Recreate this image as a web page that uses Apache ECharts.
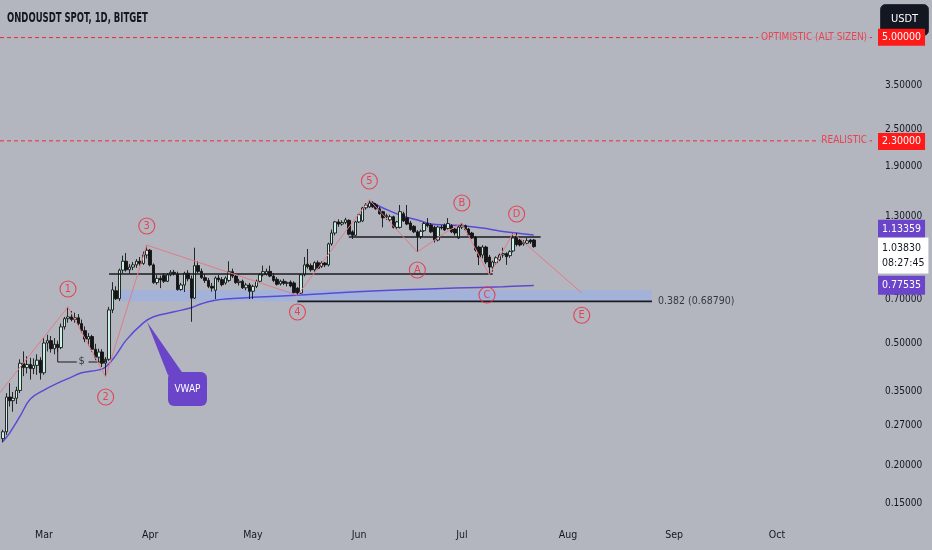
<!DOCTYPE html>
<html><head><meta charset="utf-8">
<script src="https://cdn.jsdelivr.net/npm/echarts@6/dist/echarts.min.js"></script>
<style>html,body{margin:0;padding:0;background:#b3b6bf;}#c{width:932px;height:550px;}</style>
</head><body><div id="c"></div>
<script>
// ---------- DATA ----------
const chartTitle = 'ONDOUSDT SPOT, 1D, BITGET';
const startDate = '2024-02-18';           // first daily candle
// [open, high, low, close] per day
const ohlc = [
[.245,.262,.238,.258],[.258,.345,.252,.335],[.335,.372,.312,.326],[.326,.348,.300,.332],[.332,.362,.318,.352],
[.352,.445,.345,.432],[.432,.472,.392,.418],[.418,.455,.400,.428],[.428,.450,.382,.415],[.415,.448,.398,.425],
[.425,.462,.396,.442],[.442,.452,.382,.402],[.402,.522,.396,.503],[.503,.535,.472,.512],[.512,.530,.468,.482],
[.482,.522,.462,.498],[.498,.512,.470,.486],[.486,.582,.480,.568],[.568,.612,.556,.604],[.604,.660,.586,.612],
[.612,.640,.592,.600],[.600,.632,.586,.608],[.608,.625,.574,.582],[.582,.600,.542,.552],[.552,.570,.506,.518],
[.518,.542,.492,.528],[.528,.535,.470,.480],[.480,.500,.442,.452],[.452,.482,.436,.470],[.470,.480,.420,.432],
[.432,.452,.390,.445],[.445,.660,.440,.645],[.645,.795,.630,.750],[.745,.770,.695,.702],[.702,.880,.690,.870],
[.870,.970,.850,.930],[.930,.990,.860,.872],[.872,.910,.850,.890],[.890,.925,.870,.905],[.905,.945,.885,.930],
[.930,.960,.900,.915],[.915,1.000,.905,.975],[.975,1.050,.950,1.010],[1.010,1.020,.895,.905],[.905,.915,.785,.792],
[.792,.840,.780,.818],[.818,.835,.760,.808],[.835,.850,.790,.800],[.800,.850,.795,.840],[.840,.870,.830,.856],
[.856,.872,.835,.845],[.845,.860,.745,.752],[.752,.790,.745,.778],[.778,.860,.738,.850],[.850,.870,.800,.815],
[.815,.835,.590,.705],[.705,1.030,.700,.900],[.900,.930,.850,.862],[.862,.880,.815,.822],[.822,.845,.790,.805],
[.805,.820,.760,.770],[.770,.790,.740,.760],[.748,.830,.700,.820],[.820,.840,.795,.810],[.810,.825,.770,.780],
[.790,.830,.780,.820],[.805,.930,.795,.860],[.860,.880,.820,.832],[.832,.845,.785,.792],[.792,.815,.775,.800],
[.800,.810,.755,.762],[.762,.790,.748,.778],[.778,.790,.700,.742],[.742,.780,.700,.770],[.770,.810,.760,.800],
[.800,.850,.790,.840],[.840,.900,.830,.860],[.845,.880,.835,.862],[.862,.900,.825,.832],[.832,.850,.795,.805],
[.812,.825,.775,.782],[.785,.810,.775,.800],[.800,.815,.778,.788],[.788,.800,.770,.792],[.795,.805,.765,.772],
[.790,.800,.728,.735],[.760,.765,.720,.732],[.732,.845,.728,.840],[.840,.960,.830,.905],[.910,1.020,.880,.892],
[.900,.915,.860,.872],[.872,.930,.860,.920],[.920,.935,.875,.882],[.895,.930,.885,.918],[.918,.925,.890,.905],
[.905,1.070,.895,1.060],[1.060,1.180,1.045,1.150],[1.150,1.260,1.130,1.250],[1.250,1.275,1.205,1.230],[1.230,1.265,1.215,1.245],
[1.245,1.290,1.230,1.270],[1.265,1.275,1.130,1.140],[1.160,1.175,1.100,1.130],[1.130,1.260,1.125,1.250],[1.250,1.330,1.240,1.320],
[1.260,1.400,1.250,1.390],[1.390,1.440,1.370,1.420],[1.400,1.475,1.390,1.440],[1.440,1.460,1.390,1.400],[1.420,1.440,1.370,1.380],
[1.380,1.400,1.320,1.330],[1.350,1.360,1.200,1.290],[1.300,1.330,1.270,1.310],[1.270,1.320,1.250,1.300],[1.300,1.310,1.190,1.200],
[1.200,1.260,1.180,1.250],[1.200,1.420,1.190,1.350],[1.330,1.350,1.250,1.260],[1.290,1.420,1.220,1.230],[1.240,1.260,1.170,1.180],
[1.210,1.220,1.150,1.160],[1.160,1.175,0.997,1.120],[1.120,1.180,1.100,1.165],[1.170,1.250,1.160,1.235],[1.235,1.287,1.200,1.215],
[1.222,1.240,1.150,1.160],[1.200,1.215,1.070,1.091],[1.091,1.215,1.080,1.203],[1.203,1.220,1.180,1.195],[1.220,1.235,1.170,1.176],
[1.190,1.287,1.180,1.235],[1.215,1.230,1.150,1.160],[1.185,1.195,1.130,1.150],[1.108,1.215,1.100,1.203],[1.203,1.240,1.185,1.220],
[1.215,1.225,1.170,1.180],[1.185,1.195,1.125,1.133],[1.150,1.160,1.100,1.108],[1.116,1.125,1.000,1.012],[1.035,1.045,0.904,0.960],
[0.975,1.050,0.950,1.035],[1.035,1.045,0.910,0.925],[0.960,0.975,0.839,0.890],[0.890,0.935,0.860,0.925],[0.920,0.965,0.905,0.955],
[0.940,0.985,0.930,0.975],[0.975,1.030,0.955,0.985],[0.985,0.995,0.905,0.962],[0.970,1.010,0.955,1.000],[1.005,1.150,0.995,1.108],
[1.120,1.150,1.040,1.055],[1.091,1.100,1.040,1.051],[1.060,1.090,1.045,1.070],[1.065,1.108,1.055,1.085],[1.091,1.100,1.060,1.075],
[1.091,1.100,1.030,1.038]
];
const vwapMain = [['2024-02-18',0.240],['2024-02-20',0.256],['2024-02-23',0.290],['2024-02-26',0.330],['2024-03-01',0.353],
['2024-03-05',0.372],['2024-03-09',0.389],['2024-03-12',0.402],['2024-03-17',0.411],['2024-03-19',0.420],['2024-03-22',0.459],
['2024-03-25',0.514],['2024-03-30',0.585],['2024-04-02',0.613],['2024-04-08',0.636],['2024-04-13',0.656],['2024-04-16',0.676],
['2024-04-20',0.694],['2024-04-25',0.703],['2024-05-01',0.709],['2024-05-15',0.722],['2024-05-30',0.738],['2024-06-14',0.750],
['2024-06-29',0.760],['2024-07-13',0.768],['2024-07-22',0.77535]];
const vwapAnchored = [['2024-06-04',1.452],['2024-06-05',1.441],['2024-06-08',1.388],['2024-06-13',1.316],['2024-06-19',1.258],
['2024-06-22',1.231],['2024-06-27',1.222],['2024-07-02',1.212],['2024-07-07',1.194],['2024-07-12',1.168],['2024-07-17',1.150],
['2024-07-22',1.13359]];
const waveImpulse = [['2024-02-17',0.345],['2024-03-08',0.660],['2024-03-19',0.390],['2024-03-31',1.050],['2024-05-14',0.720],['2024-06-04',1.475]];
const waveCorrective = [['2024-06-04',1.475],['2024-06-18',0.997],['2024-06-26',1.150],['2024-07-01',1.240],['2024-07-09',0.839],['2024-07-16',1.150],['2024-08-05',0.733]];
const waveMarks = [['2024-03-08',0.755,'1'],['2024-03-19',0.335,'2'],['2024-03-31',1.212,'3'],['2024-05-14',0.635,'4'],['2024-06-04',1.70,'5'],
['2024-06-18',0.871,'A'],['2024-07-01',1.441,'B'],['2024-07-08T08:00Z',0.722,'C'],['2024-07-17',1.327,'D'],['2024-08-05',0.620,'E']];
const levelLines = [
  {name:'range', pts:[['2024-03-20',0.845],['2024-07-10',0.845]]},
  {name:'neck',  pts:[['2024-05-29',1.116],['2024-07-24',1.116]]},
  {name:'fib',   pts:[['2024-05-14',0.6879],['2024-08-25T12:00Z',0.6879]]}
];
const fibLabel = ['2024-08-25T12:00Z',0.6879,'0.382 (0.68790)'];
const zone = [['2024-03-23',0.749],['2024-08-25T12:00Z',0.6879]];
const rangeTool = [[['2024-03-05',0.492],['2024-03-05',0.436],['2024-03-10T14:00Z',0.436]],[['2024-03-14',0.436],['2024-03-19',0.436],['2024-03-19',0.446]]];
const rangeLabel = ['2024-03-12',0.438,'$'];
const targets = [{value:5.0, name:'OPTIMISTIC (ALT SIZEN)'},{value:2.3, name:'REALISTIC'}];
const targetLabelDate = '2024-10-28T12:00Z';
const priceTags = [{value:1.13359, text:'1.13359', kind:'vwap2'},{value:1.0383, text:'1.03830\n08:27:45', kind:'last'},{value:0.77535, text:'0.77535', kind:'vwap'}];
const vwapCallout = [['2024-03-31T02:00Z',0.589],['2024-04-06T05:00Z',0.395],['2024-04-10T22:00Z',0.395],['2024-04-06T05:00Z',0.4045],['2024-04-17T14:00Z',0.313]];
const yTicks = [5, 3.5, 2.5, 1.9, 1.3, 0.7, 0.5, 0.35, 0.27, 0.2, 0.15];
const monthTicks = ['2024-03-01','2024-04-01','2024-05-01','2024-06-01','2024-07-01','2024-08-01','2024-09-01','2024-10-01'];
const monthLabels = ['Mar','Apr','May','Jun','Jul','Aug','Sep','Oct'];

// ---------- HELPERS ----------
const DAY = 86400000;
const ts = s => Date.parse(s.length === 10 ? s + 'T00:00:00Z' : s);
const lg = v => Math.log10(v);
const FONT = "'DejaVu Sans Condensed','Liberation Sans',sans-serif";
const RED = '#f0283a', PURPLE = '#6a44c9', VW = '#5a4bd6', PINK = '#e07c86', BG = '#b3b6bf', TXT = '#131722';
const t0 = ts(startDate);
const candles = ohlc.map((r, i) => [t0 + i * DAY, lg(r[0]), lg(r[3]), lg(r[2]), lg(r[1])]);
const toXY = a => [ts(a[0]), lg(a[1])];
const mar1 = ts('2024-03-01');
const xMin = mar1 - 12.85 * DAY, xMax = mar1 + 242.63 * DAY;
const monthTs = monthTicks.map(ts);
const tagLabel = (text, bg, fg, extra) => Object.assign({show: true, position: 'end', distance: 3, formatter: text,
  backgroundColor: bg, color: fg, padding: [3, 4], fontSize: 10.5, fontFamily: FONT}, extra || {});

const chart = echarts.init(document.getElementById('c'), null, {renderer: 'canvas'});
const option = {
  backgroundColor: BG,
  animation: false,
  grid: {left: 0, right: 57, top: 0, bottom: 30},
  xAxis: {type: 'value', min: xMin, max: xMax,
    axisLine: {show: false}, axisTick: {show: false}, splitLine: {show: false},
    axisLabel: {customValues: monthTs, color: TXT, fontSize: 10.5, fontFamily: FONT, margin: 10,
      formatter: v => { const k = monthTs.indexOf(v); return k >= 0 ? monthLabels[k] : ''; }}},
  yAxis: {type: 'value', position: 'right', min: -0.8765, max: 0.8217,
    axisLine: {show: false}, axisTick: {show: false}, splitLine: {show: false},
    axisLabel: {customValues: yTicks.map(lg), color: TXT, fontSize: 10, fontFamily: FONT, margin: 10,
      formatter: v => Math.pow(10, v).toFixed(5)}},
  graphic: [
    {type: 'text', x: 7, y: 18, scaleX: 0.70, z: 100,
      style: {text: chartTitle, font: 'bold 13.5px ' + FONT, fill: TXT, verticalAlign: 'middle'}},
    {type: 'group', left: 880, top: 4, z: 100, children: [
      {type: 'rect', shape: {x: 0, y: 0, width: 48, height: 31, r: 5}, style: {fill: '#131722', stroke: '#2a2e39'}},
      {type: 'text', style: {text: 'USDT', x: 24, y: 15, fill: '#fff', font: '11px ' + FONT, align: 'center', verticalAlign: 'middle'}}
    ]}],
  series: [
    {type: 'line', data: [], z: 1, silent: true,
      markArea: {silent: true, itemStyle: {color: 'rgba(150,175,238,0.55)'},
        data: [[{xAxis: ts(zone[0][0]), yAxis: lg(zone[0][1])}, {xAxis: ts(zone[1][0]), yAxis: lg(zone[1][1])}]]}},
    // target levels (red dashed) drawn across the whole plot
    ...targets.map(tg => ({type: 'line', data: [[xMin, lg(tg.value)], [xMax, lg(tg.value)]], showSymbol: false,
      z: 2, silent: true, lineStyle: {color: RED, type: [4, 3], width: 1},
      markLine: {symbol: ['none', 'none'], silent: true, animation: false,
        data: [{yAxis: lg(tg.value), lineStyle: {color: 'rgba(0,0,0,0)', width: 0},
          label: tagLabel(tg.value.toFixed(5), '#ff1a1a', '#fff')}]}})),
    {type: 'line', data: vwapMain.map(toXY), smooth: 0.4, showSymbol: false, z: 3, silent: true,
      lineStyle: {color: VW, width: 1.5}},
    {type: 'line', data: vwapAnchored.map(toXY), smooth: 0.4, showSymbol: false, z: 3, silent: true,
      lineStyle: {color: VW, width: 1.5}},
    {type: 'candlestick', data: candles, barWidth: 3, z: 4, silent: true,
      itemStyle: {color: '#c8f1e3', color0: '#141414', borderColor: '#161616', borderColor0: '#141414', borderWidth: 0.9},
      markLine: {symbol: ['none', 'none'], silent: true, animation: false,
        data: priceTags.map(pt => ({yAxis: lg(pt.value), lineStyle: {color: 'rgba(0,0,0,0)', width: 0},
          label: tagLabel(pt.text, pt.kind === 'last' ? '#ffffff' : PURPLE, pt.kind === 'last' ? TXT : '#fff',
            {lineHeight: pt.kind === 'last' ? 15 : 13,
             offset: pt.kind === 'vwap2' ? [0, -7] : (pt.kind === 'last' ? [0, 10] : [0, 0])})}))}},
    ...levelLines.map(l => ({type: 'line', data: l.pts.map(toXY), showSymbol: false, z: 5, silent: true,
      lineStyle: {color: '#1b1b1f', width: 1.6}})),
    ...rangeTool.map(seg => ({type: 'line', data: seg.map(toXY), showSymbol: false, z: 5, silent: true,
      lineStyle: {color: '#1b1b1f', width: 1}})),
    {type: 'line', data: waveImpulse.map(toXY), showSymbol: false, z: 5, silent: true, lineStyle: {color: PINK, width: 1}},
    {type: 'line', data: waveCorrective.map(toXY), showSymbol: false, z: 5, silent: true, lineStyle: {color: PINK, width: 1}},
    {type: 'scatter', z: 6, silent: true, symbol: 'circle', symbolSize: 16,
      data: waveMarks.map(m => [ts(m[0]), lg(m[1]), m[2]]),
      itemStyle: {color: 'rgba(0,0,0,0)', borderColor: RED, borderWidth: 1.1},
      label: {show: true, position: 'inside', formatter: p => p.value[2], color: RED, fontSize: 11, fontFamily: FONT}},
    {type: 'scatter', z: 6, silent: true, symbolSize: 0,
      data: targets.map(tg => [ts(targetLabelDate), lg(tg.value), tg.name]),
      label: {show: true, position: 'left', distance: 1, formatter: p => p.value[2], color: RED, fontSize: 10,
        fontFamily: FONT, backgroundColor: BG, padding: [1, 3]}},
    {type: 'scatter', z: 6, silent: true, symbolSize: 0,
      data: [[ts(fibLabel[0]), lg(fibLabel[1]), fibLabel[2]]],
      label: {show: true, position: 'right', distance: 6, formatter: p => p.value[2], color: TXT, fontSize: 10.5, fontFamily: FONT}},
    {type: 'scatter', z: 6, silent: true, symbolSize: 0,
      data: [[ts(rangeLabel[0]), lg(rangeLabel[1]), rangeLabel[2]]],
      label: {show: true, position: 'inside', formatter: p => p.value[2], color: TXT, fontSize: 11, fontFamily: FONT}},
    {type: 'custom', z: 6, silent: true,
      data: [vwapCallout.flatMap(toXY)],
      encode: {x: [0, 2, 4, 6, 8], y: [1, 3, 5, 7, 9]},
      renderItem: (params, api) => {
        const p = i => api.coord([api.value(i * 2), api.value(i * 2 + 1)]);
        const tip = p(0), b1 = p(1), b2 = p(2), c1 = p(3), c2 = p(4);
        return {type: 'group', children: [
          {type: 'polygon', shape: {points: [tip, b1, b2]}, style: {fill: PURPLE}},
          {type: 'rect', shape: {x: c1[0], y: c1[1], width: c2[0] - c1[0], height: c2[1] - c1[1], r: 6}, style: {fill: PURPLE}},
          {type: 'text', style: {text: 'VWAP', x: (c1[0] + c2[0]) / 2, y: (c1[1] + c2[1]) / 2, fill: '#fff',
            font: '10px ' + FONT, align: 'center', verticalAlign: 'middle'}}
        ]};
      }}
  ]
};
chart.setOption(option);
</script>
</body></html>
